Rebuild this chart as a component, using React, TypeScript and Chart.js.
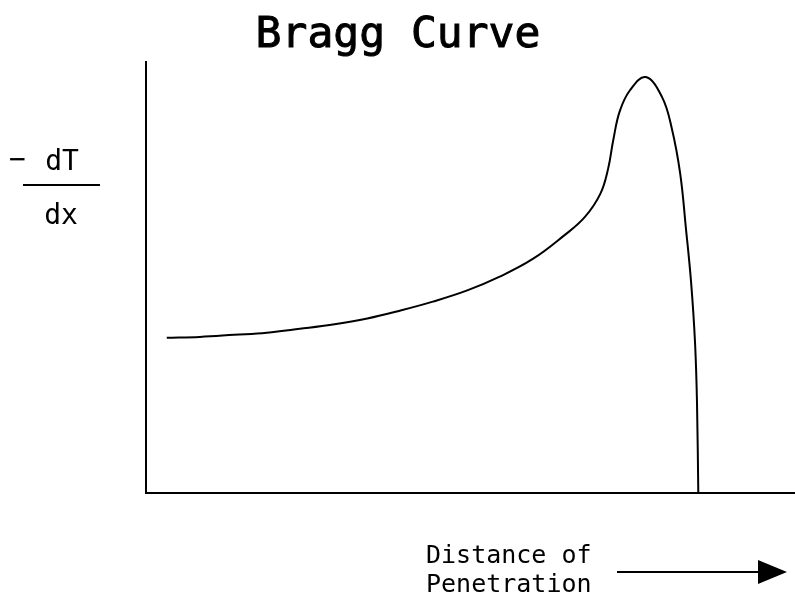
import React, { useEffect, useRef } from "react";
import { Chart, registerables } from "chart.js";

Chart.register(...registerables);

const titleText = "Bragg Curve";
const yLabelTop = "dT";
const yLabelBottom = "dx";
const yLabelSign = "−";
const xLabelLines = ["Distance of", "Penetration"];

const depth = [
  3.2, 8.3, 13.6, 18.6, 23.7, 28.8, 34.1, 39.1, 44.2, 49.5, 54.5, 59.6, 64.3,
  67.6, 70.0, 71.2, 72.0, 73.0, 74.6, 77.0, 79.5, 81.0, 82.3, 83.2, 84.0, 84.6,
  84.9, 85.1,
];
const stoppingPower = [
  36.0, 36.2, 36.7, 37.2, 38.1, 39.1, 40.5, 42.3, 44.4, 47.0, 50.2, 54.3, 59.6,
  64.0, 69.4, 75.2, 81.9, 88.6, 93.5, 96.5, 91.9, 84.7, 74.2, 61.3, 48.7, 34.8,
  20.9, 0,
];

const FONT = "'DejaVu Sans Mono', monospace";

const textPlugin = {
  id: "braggText",
  afterDraw(chart: any) {
    const ctx = chart.ctx as CanvasRenderingContext2D;
    ctx.save();
    ctx.fillStyle = "#000";
    ctx.strokeStyle = "#000";

    // title
    ctx.font = `43px ${FONT}`;
    ctx.textAlign = "center";
    ctx.textBaseline = "alphabetic";
    ctx.lineWidth = 1;
    ctx.fillText(titleText, 398, 47);
    ctx.strokeText(titleText, 398, 47);

    // y label as fraction
    ctx.font = `28px ${FONT}`;
    ctx.fillText(yLabelTop, 62, 170);
    ctx.fillText(yLabelBottom, 61, 224);
    ctx.textAlign = "left";
    ctx.fillText(yLabelSign, 9, 168);
    ctx.lineWidth = 2;
    ctx.beginPath();
    ctx.moveTo(23, 185);
    ctx.lineTo(100, 185);
    ctx.stroke();

    // x label
    ctx.font = `25px ${FONT}`;
    ctx.textAlign = "left";
    ctx.fillText(xLabelLines[0], 426, 563);
    ctx.fillText(xLabelLines[1], 426, 592);

    // arrow
    ctx.beginPath();
    ctx.moveTo(617, 572);
    ctx.lineTo(762, 572);
    ctx.stroke();
    ctx.beginPath();
    ctx.moveTo(758, 560);
    ctx.lineTo(787, 572);
    ctx.lineTo(758, 584);
    ctx.closePath();
    ctx.fill();
    ctx.restore();
  },
};

export default function App() {
  const ref = useRef<HTMLCanvasElement>(null);
  useEffect(() => {
    if (!ref.current) return;
    const chart = new Chart(ref.current, {
      type: "line",
      data: {
        datasets: [
          {
            data: depth.map((x, i) => ({ x, y: stoppingPower[i] })),
            borderColor: "#000",
            borderWidth: 2,
            pointRadius: 0,
            tension: 0.4,
            fill: false,
          },
        ],
      },
      options: {
        animation: false,
        responsive: false,
        devicePixelRatio: 1,
        layout: { padding: { left: 146, right: 0, top: 62, bottom: 121 } },
        plugins: {
          legend: { display: false },
          tooltip: { enabled: false },
          title: { display: false },
        },
        scales: {
          x: {
            type: "linear",
            min: 0,
            max: 100,
            grid: { display: false, drawTicks: false },
            ticks: { display: false },
            border: { display: true, color: "#000", width: 2 },
            afterFit: (s: any) => {
              s.height = 0;
            },
          },
          y: {
            type: "linear",
            min: 0,
            max: 100,
            grid: { display: false, drawTicks: false },
            ticks: { display: false },
            border: { display: true, color: "#000", width: 2 },
            afterFit: (s: any) => {
              s.width = 0;
            },
          },
        },
      },
      plugins: [textPlugin],
    });
    return () => chart.destroy();
  }, []);
  return (
    <div style={{ position: "absolute", left: 0, top: 0, width: 795, height: 614, background: "#fff" }}>
      <canvas ref={ref} width={795} height={614} style={{ display: "block" }} />
    </div>
  );
}
